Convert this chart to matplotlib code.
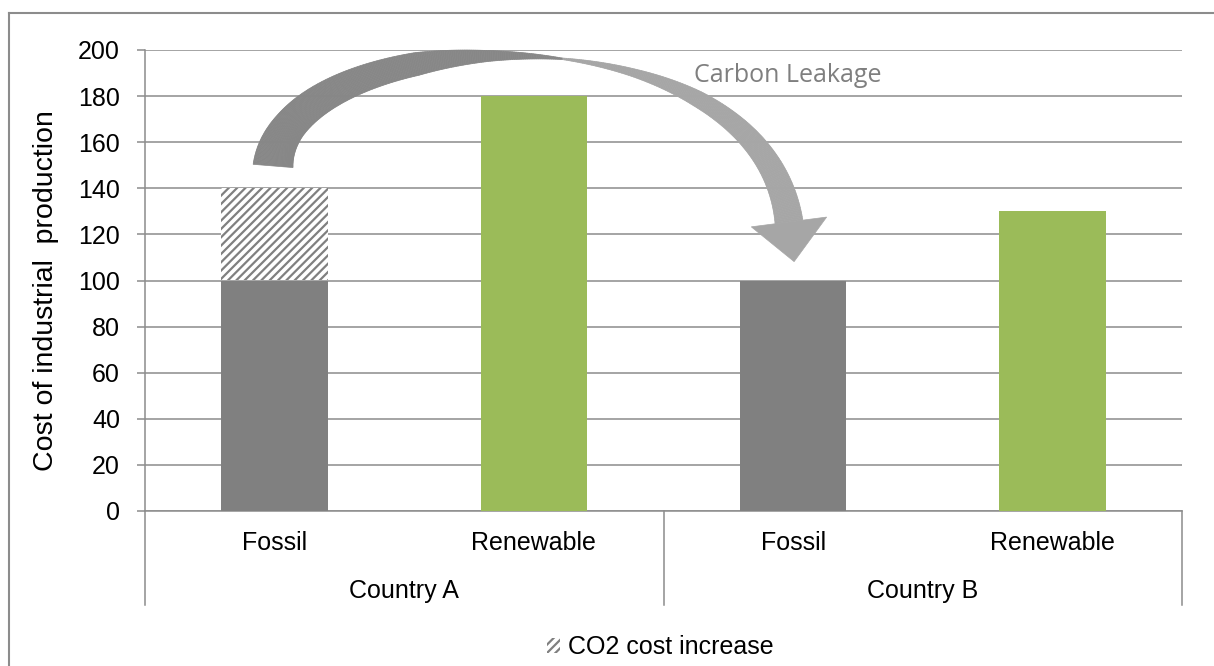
import matplotlib
matplotlib.use('Agg')
import matplotlib.pyplot as plt
import numpy as np
from matplotlib.patches import Polygon, Patch
from matplotlib.lines import Line2D
from matplotlib.transforms import IdentityTransform, blended_transform_factory

# ---- data ----
countries = ['Country A', 'Country B']
sources = ['Fossil', 'Renewable', 'Fossil', 'Renewable']
base_cost = [100, 180, 100, 130]
co2_increase = [40, 0, 0, 0]
yticks = list(range(0, 201, 20))
legend_label = 'CO2 cost increase'
arrow_label = 'Carbon Leakage'
ylabel = 'Cost of industrial  production'

plt.rcParams['font.family'] = ['Liberation Sans', 'DejaVu Sans']
plt.rcParams['hatch.linewidth'] = 1.6

W, H = 1214, 666
fig = plt.figure(figsize=(W / 100, H / 100), dpi=100)
fig.patch.set_facecolor('white')
ax = fig.add_axes([145 / W, 1 - 511 / H, (1182 - 145) / W, (511 - 50) / H])

gray = '#808080'
green = '#9BBB59'
gridc = '#8c8c8c'
x = np.arange(len(sources))
colors = [gray if s == 'Fossil' else green for s in sources]
bw = 0.41
ax.bar(x, base_cost, width=bw, color=colors, zorder=3, linewidth=0)
ax.bar(x, co2_increase, bottom=base_cost, width=bw, color='white', hatch='////',
       edgecolor=gray, linewidth=0, zorder=3)

ax.set_xlim(-0.5, len(sources) - 0.5)
ax.set_ylim(0, 200)
ax.set_yticks(yticks)
ax.set_xticks([])
ax.grid(axis='y', color=gridc, linewidth=1.1, zorder=0)
ax.set_axisbelow(True)
for s in ['top', 'right']:
    ax.spines[s].set_visible(False)
ax.spines['left'].set_color(gridc)
ax.spines['left'].set_linewidth(1.1)
ax.spines['bottom'].set_color(gridc)
ax.spines['bottom'].set_linewidth(1.1)
ax.tick_params(axis='y', length=6, width=1.1, color=gridc, pad=12, labelsize=18)

trans = blended_transform_factory(ax.transData, ax.transAxes)
for xi, s in zip(x, sources):
    ax.text(xi, (511 - 543) / 461, s, transform=trans, ha='center', va='center', fontsize=18)
for ci, c in enumerate(countries):
    ax.text(ci * 2 + 0.5, (511 - 591) / 461, c, transform=trans, ha='center', va='center', fontsize=18)
for xs in [-0.5, 1.5, 3.5]:
    ax.add_line(Line2D([xs, xs], [0, (511 - 605) / 461], transform=trans, color=gridc,
                       lw=1.1, clip_on=False))

fig.text(46 / W, 1 - 291 / H, ylabel, rotation=90, ha='center', va='center', fontsize=20.5)

# outer frame
fig.add_artist(Line2D([9 / W, 9 / W], [0, 1 - 13 / H], transform=fig.transFigure, color=gridc, lw=1.5))
fig.add_artist(Line2D([9 / W, 1], [1 - 13 / H, 1 - 13 / H], transform=fig.transFigure, color=gridc, lw=1.5))

# ---- curved arrow (annotation), control points in data coords ----
arrow_ctrl = [(-0.006, 149.7), (0.040, 213.0), (1.873, 221.7), (1.984, 125.4)]
ctrl = np.array([ax.transData.transform(p) for p in arrow_ctrl])
t = np.linspace(0, 1, 400)
B = (((1 - t) ** 3)[:, None] * ctrl[0] + (3 * (1 - t) ** 2 * t)[:, None] * ctrl[1]
     + (3 * (1 - t) * t ** 2)[:, None] * ctrl[2] + (t ** 3)[:, None] * ctrl[3])
dB = ((3 * (1 - t) ** 2)[:, None] * (ctrl[1] - ctrl[0]) + (6 * (1 - t) * t)[:, None] * (ctrl[2] - ctrl[1])
      + (3 * t ** 2)[:, None] * (ctrl[3] - ctrl[2]))
tang = dB / np.linalg.norm(dB, axis=1)[:, None]
nrm = np.stack([-tang[:, 1], tang[:, 0]], axis=1)
w = np.interp(t, [0, 0.1, 0.25, 0.35, 0.45, 0.55, 0.65, 0.75, 1],
              [40, 33, 27, 23, 11, 1.5, 8, 16, 28])
L = B + nrm * w[:, None] / 2
R = B - nrm * w[:, None] / 2
c0 = np.array([0x87, 0x87, 0x87]) / 255
c1 = np.array([0xa6, 0xa6, 0xa6]) / 255
for i in range(len(t) - 1):
    col = c0 if t[i] < 0.55 else c1
    quad = [L[i], L[i + 1], R[i + 1], R[i]]
    fig.add_artist(Polygon(quad, closed=True, facecolor=col, edgecolor=col, lw=0.5,
                           transform=IdentityTransform(), zorder=5))
E = B[-1]
d = tang[-1]
n = nrm[-1]
head = [E + n * 38, E - n * 38, E + d * 40]
fig.add_artist(Polygon(head, closed=True, facecolor=c1, edgecolor=c1, lw=0.5,
                       transform=IdentityTransform(), zorder=5))

fig.text(788 / W, 1 - 75 / H, arrow_label, ha='center', va='center', fontsize=18,
         color='#7f7f7f', family=['Open Sans', 'DejaVu Sans'])

# legend
h = Patch(facecolor='white', edgecolor=gray, hatch='////', linewidth=0)
fig.legend(handles=[h], labels=[legend_label], loc='center', bbox_to_anchor=(660 / W, 1 - 647 / H),
           frameon=False, fontsize=18, handlelength=0.55, handleheight=0.55, handletextpad=0.3)

fig.savefig('out.png', dpi=100)
